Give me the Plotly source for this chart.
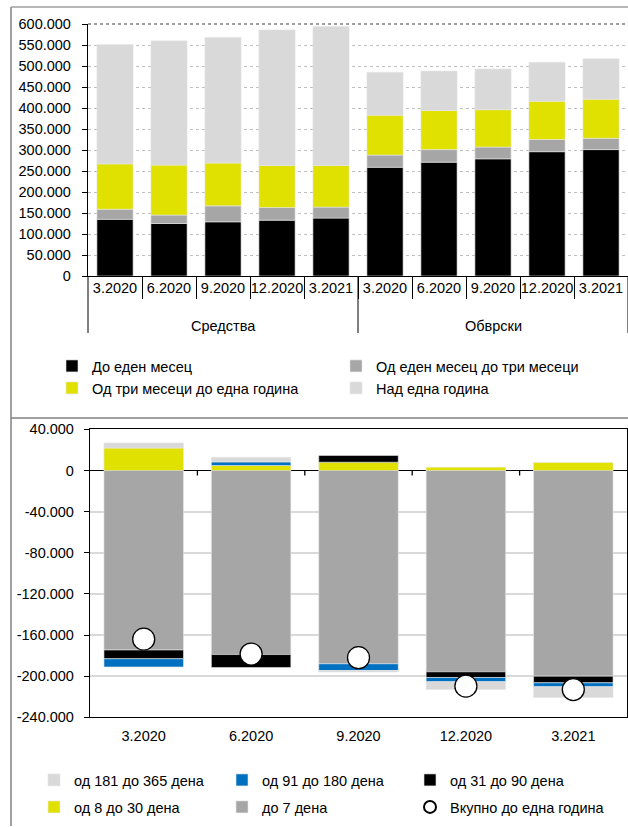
import plotly.graph_objects as go

# ---- categories -------------------------------------------------------
periods = ["3.2020", "6.2020", "9.2020", "12.2020", "3.2021"]
groups = ["Средства", "Обврски"]

# ---- top panel: maturity structure of assets and liabilities ----------
top_names = ["До еден месец", "Од еден месец до три месеци",
             "Од три месеци до една година", "Над една година"]
assets_upto_1m = [135000, 125000, 129000, 133000, 138000]
assets_1m_3m = [24000, 20000, 38000, 30000, 26000]
assets_3m_1y = [108000, 119000, 102000, 100000, 99000]
assets_over_1y = [284000, 296000, 299000, 323000, 331000]
liab_upto_1m = [259000, 271000, 279000, 296000, 301000]
liab_1m_3m = [29000, 30000, 28000, 29000, 27000]
liab_3m_1y = [95000, 93000, 89000, 91000, 93000]
liab_over_1y = [102000, 94000, 97000, 93000, 96000]

# ---- bottom panel: maturity gap up to one year -----------------------
bottom_names = ["до 7 дена", "од 8 до 30 дена", "од 31 до 90 дена",
                "од 91 до 180 дена", "од 181 до 365 дена"]
gap_upto_7d = [-174600, -179000, -188000, -195800, -200000]
gap_8_30d = [21800, 4800, 8000, 3200, 7700]
gap_31_90d = [-8500, -12600, 6500, -5500, -6500]
gap_91_180d = [-8000, 3500, -6500, -4200, -3800]
gap_181_365d = [5000, 4500, -1500, -7500, -10400]
total_name = "Вкупно до една година"
gap_total_1y = [-164000, -178500, -182000, -209700, -213000]

bottom_tickvals = [40000, 0, -40000, -80000, -120000, -160000, -200000, -240000]
bottom_ticktext = ["40.000", "0", "-40.000", "-80.000", "-120.000",
                   "-160.000", "-200.000", "-240.000"]

# ---- styling ----------------------------------------------------------
FONT = "Liberation Sans, Arial, sans-serif"
FS = 14.5
top_colors = ["#000000", "#a6a6a6", "#e1e100", "#d9d9d9"]
bottom_colors = ["#a6a6a6", "#e1e100", "#000000", "#0070c0", "#d9d9d9"]

W, H = 628, 827


def px_x(px):
    return px / W


def px_y(px):
    return (H - px) / H


fig = go.Figure()

# top panel: one slot per (group, period) pair on a positional axis
top_labels = periods * len(groups)
top_pos = list(range(len(top_labels)))
n_per = len(periods)
top_series = [
    assets_upto_1m + liab_upto_1m,
    assets_1m_3m + liab_1m_3m,
    assets_3m_1y + liab_3m_1y,
    assets_over_1y + liab_over_1y,
]
for i, (name, vals) in enumerate(zip(top_names, top_series)):
    fig.add_trace(go.Bar(
        x=top_pos, y=vals, name=name,
        marker=dict(color=top_colors[i], line=dict(color="#e6e6e6", width=0.6)),
        xaxis="x", yaxis="y",
        legend="legend" if i < 2 else "legend2",
    ))

# bottom panel: positive/negative stacked gap bars
bottom_series = [gap_upto_7d, gap_8_30d, gap_31_90d, gap_91_180d, gap_181_365d]
bottom_rank = [5, 4, 3, 2, 1]
bottom_legend = ["legend4", "legend4", "legend3", "legend3", "legend3"]
for i, (name, vals) in enumerate(zip(bottom_names, bottom_series)):
    fig.add_trace(go.Bar(
        x=periods, y=vals, name=name, width=0.74,
        marker=dict(color=bottom_colors[i], line=dict(color="#e6e6e6", width=0.6)),
        xaxis="x2", yaxis="y2",
        legend=bottom_legend[i], legendrank=bottom_rank[i],
    ))

fig.add_trace(go.Scatter(
    x=periods, y=gap_total_1y, name=total_name, mode="markers",
    marker=dict(symbol="circle", size=22, color="white",
                line=dict(color="black", width=1.3)),
    xaxis="x2", yaxis="y2", legend="legend5",
))

legend_common = dict(
    orientation="h", xanchor="left", yanchor="middle",
    bgcolor="rgba(0,0,0,0)", font=dict(family=FONT, size=FS, color="black"),
    entrywidthmode="pixels", traceorder="normal",
)

inner_bounds = [p + 0.5 for p in top_pos[:-1]]
group_bounds = [g * n_per - 0.5 for g in range(len(groups) + 1)]

fig.update_layout(
    width=W, height=H,
    margin=dict(l=0, r=0, t=0, b=0, autoexpand=False),
    paper_bgcolor="white", plot_bgcolor="rgba(0,0,0,0)",
    font=dict(family=FONT, size=FS, color="black"),
    separators=",.",
    barmode="relative",
    bargap=0.33,
    showlegend=True,
    # top panel axes
    xaxis=dict(
        domain=[px_x(88), 1.0], anchor="y", automargin=False,
        range=[-0.5, len(top_pos) - 0.5],
        tickmode="array", tickvals=top_pos, ticktext=top_labels,
        tickangle=0, ticks="", ticklabelstandoff=-2,
        minor=dict(tickmode="array", tickvals=inner_bounds, ticks="outside",
                   ticklen=22, tickcolor="black", tickwidth=1, showgrid=False),
        showline=True, linecolor="black", linewidth=1.3,
        showgrid=False, zeroline=False,
    ),
    yaxis=dict(
        domain=[px_y(276), px_y(24)], anchor="x", automargin=False,
        range=[0, 600000], tickmode="linear", tick0=0, dtick=50000,
        tickformat=",.0f", ticklabelstandoff=8,
        showline=True, linecolor="black", linewidth=1.3,
        ticks="outside", ticklen=5, tickcolor="black",
        showgrid=True, gridcolor="#bfbfbf", griddash="dot", gridwidth=1,
        zeroline=False,
    ),
    # bottom panel axes
    xaxis2=dict(
        domain=[px_x(90), px_x(627)], anchor="y2", type="category",
        automargin=False, tickangle=0, ticklabelstandoff=5,
        showline=True, linecolor="black", linewidth=1.3, mirror=True,
        ticks="", showgrid=False,
    ),
    yaxis2=dict(
        domain=[px_y(717.3), px_y(429.3)], anchor="x2", automargin=False,
        range=[-240000, 40000], ticklabelstandoff=7,
        tickmode="array", tickvals=bottom_tickvals, ticktext=bottom_ticktext,
        showline=True, linecolor="black", linewidth=1.3, mirror=True,
        ticks="outside", ticklen=5, tickcolor="black",
        showgrid=True, gridcolor="#d9d9d9", gridwidth=2,
        zeroline=True, zerolinecolor="black", zerolinewidth=1.3,
    ),
    legend=dict(legend_common, x=px_x(52), y=px_y(366), entrywidth=239),
    legend2=dict(legend_common, x=px_x(52), y=px_y(388), entrywidth=239),
    legend3=dict(legend_common, x=px_x(34), y=px_y(780), entrywidth=143),
    legend4=dict(legend_common, x=px_x(34), y=px_y(807), entrywidth=143),
    legend5=dict(legend_common, x=px_x(410), y=px_y(807), itemsizing="constant"),
)

# group captions under the period labels of the top panel
for g, name in enumerate(groups):
    members = top_pos[g * n_per:(g + 1) * n_per]
    fig.add_annotation(
        x=sum(members) / len(members), xref="x",
        y=px_y(326), yref="paper", yanchor="middle",
        text=name, showarrow=False, font=dict(family=FONT, size=FS, color="black"),
    )

# group dividers reaching down through both label rows
for b in group_bounds:
    fig.add_shape(type="line", xref="x domain", yref="paper",
                  x0=(b + 0.5) / len(top_pos), x1=(b + 0.5) / len(top_pos),
                  y0=px_y(276), y1=px_y(333),
                  line=dict(color="black", width=1))

# boundary ticks hanging from the zero line of the bottom panel
for k in range(len(periods) - 1):
    fig.add_shape(type="line", xref="x2", yref="y2",
                  x0=k + 0.5, x1=k + 0.5, ysizemode="pixel", yanchor=0, y0=0, y1=-5,
                  line=dict(color="black", width=1.3))

# panel frames and the darker top edge of the upper plot area
frame = "#a0a0a0"
fig.add_shape(type="line", xref="paper", yref="paper",
              x0=px_x(11), x1=px_x(11), y0=px_y(7), y1=px_y(826),
              line=dict(color=frame, width=2))
fig.add_shape(type="line", xref="paper", yref="paper",
              x0=px_x(11), x1=1.0, y0=px_y(7), y1=px_y(7),
              line=dict(color=frame, width=1.5))
fig.add_shape(type="line", xref="paper", yref="paper",
              x0=px_x(11), x1=1.0, y0=px_y(418), y1=px_y(418),
              line=dict(color="#808080", width=1.5))
fig.add_shape(type="line", xref="x domain", yref="y domain",
              x0=0, x1=1, y0=1, y1=1,
              line=dict(color="#7f7f7f", width=1.5, dash="dot"))

fig.write_html("out.html")
